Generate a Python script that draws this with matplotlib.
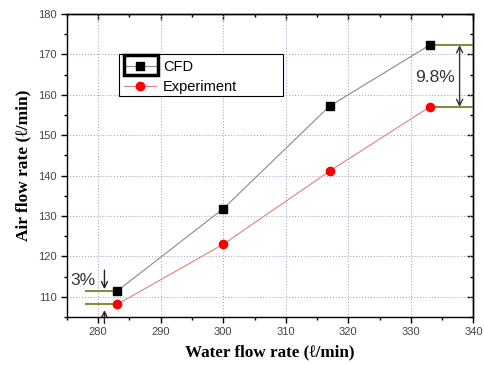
import matplotlib
matplotlib.use("Agg")
import matplotlib.pyplot as plt
from matplotlib.ticker import MultipleLocator
from matplotlib.patches import Rectangle

# data
water_flow = [283, 300, 317, 333]
cfd_air = [111.4, 131.8, 157.2, 172.3]
exp_air = [108.1, 123.0, 141.1, 157.0]

sans = ['Liberation Sans', 'DejaVu Sans']
serif = ['Liberation Serif', 'DejaVu Serif']

fig = plt.figure(figsize=(4.85, 3.65), dpi=100)
ax = fig.add_axes([0.138, 0.1315, 0.838, 0.830])

ax.plot(water_flow, cfd_air, color='#8a8a8a', lw=0.8, marker='s', ms=5.5,
        mfc='black', mec='black', label='CFD', zorder=3)
ax.plot(water_flow, exp_air, color='#e08080', lw=0.8, marker='o', ms=6,
        mfc='red', mec='red', label='Experiment', zorder=3)

ax.set_xlim(275, 340)
ax.set_ylim(105, 180)
ax.xaxis.set_major_locator(MultipleLocator(10))
ax.xaxis.set_minor_locator(MultipleLocator(5))
ax.yaxis.set_major_locator(MultipleLocator(10))
ax.yaxis.set_minor_locator(MultipleLocator(5))
ax.grid(True, which='major', ls=(0, (1, 2)), color='#9a9ac8', lw=0.7)

ax.tick_params(which='both', direction='out', top=False, right=False,
               labelsize=8, labelcolor='#444444', width=1.0)
ax.tick_params(which='major', length=4)
ax.tick_params(which='minor', length=2.5)
for lab in ax.get_xticklabels() + ax.get_yticklabels():
    lab.set_family(sans)
# inward ticks on top and right
sec_x = ax.secondary_xaxis('top')
sec_x.xaxis.set_major_locator(MultipleLocator(10))
sec_x.xaxis.set_minor_locator(MultipleLocator(5))
sec_x.tick_params(which='both', direction='in', labeltop=False, width=1.0)
sec_x.tick_params(which='major', length=4)
sec_x.tick_params(which='minor', length=2.5)
sec_y = ax.secondary_yaxis('right')
sec_y.yaxis.set_major_locator(MultipleLocator(10))
sec_y.yaxis.set_minor_locator(MultipleLocator(5))
sec_y.tick_params(which='both', direction='in', labelright=False, width=1.0)
sec_y.tick_params(which='major', length=4)
sec_y.tick_params(which='minor', length=2.5)
for sp in list(ax.spines.values()) + [sec_x.spines['top'], sec_y.spines['right']]:
    sp.set_linewidth(1.0)

ax.set_xlabel('Water flow rate (ℓ/min)', family=serif, fontweight='bold',
              fontsize=12.3, labelpad=5)
ax.set_ylabel('Air flow rate (ℓ/min)', family=serif, fontweight='bold',
              fontsize=12.5, labelpad=5)

# legend: frame drawn by hand, wider than the entries like the original
ax.add_patch(Rectangle((283.3, 159.7), 26.3, 10.4, fill=True, fc='white',
                       ec='black', lw=0.8, zorder=4))
ax.add_patch(Rectangle((284.1, 164.9), 5.4, 4.9, fill=False, ec='black',
                       lw=2.5, zorder=6))
leg = ax.legend(loc='upper left', bbox_to_anchor=(283.6, 169.4),
                bbox_transform=ax.transData, frameon=False,
                prop={'family': sans, 'size': 10.5}, handlelength=2.2,
                handletextpad=0.5, borderpad=0.2, labelspacing=0.4,
                borderaxespad=0)
leg.set_zorder(5)

olive = '#8c8a3c'
arrow_kw = dict(arrowstyle='->', color='#222222', lw=1.0,
                shrinkA=0, shrinkB=0, mutation_scale=11)
# 9.8% annotation
ax.plot([water_flow[-1], 340], [cfd_air[-1], cfd_air[-1]], color=olive, lw=1.5, zorder=2)
ax.plot([water_flow[-1], 340], [exp_air[-1], exp_air[-1]], color=olive, lw=1.5, zorder=2)
ax.annotate('', xy=(337.8, exp_air[-1]), xytext=(337.8, cfd_air[-1]),
            arrowprops=dict(arrow_kw, arrowstyle='<->', color='#333333'))
ax.text(333.8, 164.4, '9.8%', family=sans, fontsize=12.5, color='#333333',
        ha='center', va='center')

# 3% annotation
ax.plot([278.0, water_flow[0]], [cfd_air[0], cfd_air[0]], color=olive, lw=1.5, zorder=2)
ax.plot([278.0, water_flow[0]], [exp_air[0], exp_air[0]], color=olive, lw=1.5, zorder=2)
ax.annotate('', xy=(281.0, 111.9), xytext=(281.0, 116.6), arrowprops=arrow_kw)
ax.annotate('', xy=(281.0, 106.7), xytext=(281.0, 103.4), arrowprops=arrow_kw,
            annotation_clip=False)
ax.text(277.6, 114.0, '3%', family=sans, fontsize=12.5, color='#333333',
        ha='center', va='center')

fig.savefig('out.png', dpi=100)
